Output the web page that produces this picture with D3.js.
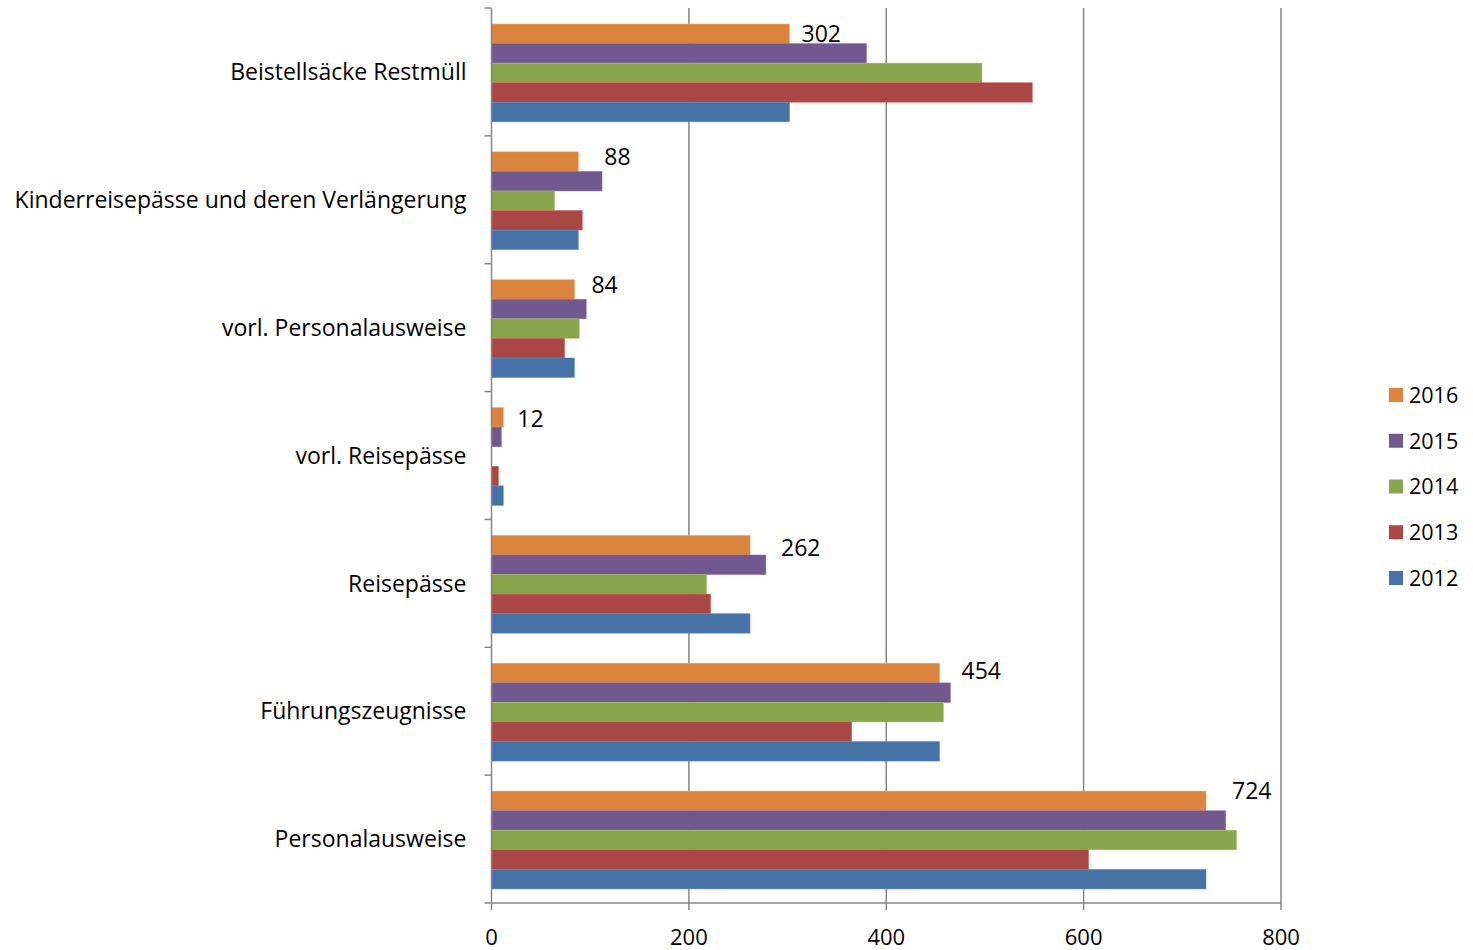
<!DOCTYPE html>
<html><head><meta charset="utf-8">
<script src="https://cdn.jsdelivr.net/npm/d3@7"></script>
<style>body{margin:0;background:#fff}svg{display:block}</style>
</head><body>
<script>
const categories = ["Beistellsäcke Restmüll","Kinderreisepässe und deren Verlängerung","vorl. Personalausweise","vorl. Reisepässe","Reisepässe","Führungszeugnisse","Personalausweise"];
const series = ["2016","2015","2014","2013","2012"];
const v2016 = [302, 88, 84, 12, 262, 454, 724];
const v2015 = [380, 112, 96, 10, 278, 465, 744];
const v2014 = [497, 64, 89, 0, 218, 458, 755];
const v2013 = [548, 92, 74, 7, 222, 365, 605];
const v2012 = [302, 88, 84, 12, 262, 454, 724];
const xTicks = [0, 200, 400, 600, 800];
const colors = ["#DB843D","#71588F","#89A54E","#AA4643","#4572A7"];
const values = [v2016, v2015, v2014, v2013, v2012];
// manual nudges of the data labels (layout, in px)
const labelNudgeX = [12, 26, 17, 14, 31, 22, 26];
const labelNudgeY = [0, -5, -4.5, 1, 3, -2, -10.5];

const W = 1473, H = 950;
const svg = d3.select("body").append("svg").attr("width", W).attr("height", H);
const font = "'Open Sans', sans-serif";

const x = d3.scaleLinear().domain([0, 800]).range([491.5, 1281]);
const y = d3.scaleBand().domain(categories).range([8, 903]);
const yi = d3.scaleBand().domain(series).range([y.bandwidth()*0.125, y.bandwidth()*0.89]);

// gridlines
svg.append("g").selectAll("line").data(xTicks.slice(1)).join("line")
  .attr("x1", d => x(d)).attr("x2", d => x(d))
  .attr("y1", 8).attr("y2", 903)
  .attr("stroke", "#868686").attr("stroke-width", 1.5);

// bars
const groups = svg.append("g").selectAll("g").data(categories).join("g")
  .attr("transform", c => `translate(0,${y(c)})`);
groups.each(function(c, ci) {
  const g = d3.select(this);
  series.forEach((s, si) => {
    const v = values[si][ci];
    if (v > 0) {
      g.append("rect")
        .attr("x", x(0)).attr("y", yi(s))
        .attr("width", x(v) - x(0)).attr("height", yi.bandwidth())
        .attr("fill", colors[si])
        .attr("stroke", d3.color(colors[si]).brighter(0.6)).attr("stroke-opacity", 0.6).attr("stroke-width", 0.8);
    }
  });
  // data label for 2016
  g.append("text")
    .attr("x", x(v2016[ci]) + labelNudgeX[ci])
    .attr("y", yi("2016") + yi.bandwidth()/2 + labelNudgeY[ci])
    .attr("dy", "0.36em")
    .attr("font-family", font).attr("font-size", 23).attr("fill", "#000")
    .text(v2016[ci]);
});

// y axis
const yAxis = svg.append("g");
yAxis.append("line").attr("x1", x(0)).attr("x2", x(0)).attr("y1", 8).attr("y2", 903)
  .attr("stroke", "#868686").attr("stroke-width", 1.5);
const bounds = categories.map(c => y(c)).concat([y.range()[1]]);
yAxis.selectAll("line.tk").data(bounds).join("line").attr("class","tk")
  .attr("x1", x(0) - 7).attr("x2", x(0)).attr("y1", d => d).attr("y2", d => d)
  .attr("stroke", "#868686").attr("stroke-width", 1.5);
yAxis.selectAll("text").data(categories).join("text")
  .attr("x", x(0) - 25).attr("y", c => y(c) + y.bandwidth()/2)
  .attr("dy", "0.36em").attr("text-anchor", "end")
  .attr("font-family", font).attr("font-size", 23).attr("fill", "#000")
  .text(c => c);

// x axis
const xAxis = svg.append("g");
xAxis.append("line").attr("x1", x(0)).attr("x2", x(800)).attr("y1", 903).attr("y2", 903)
  .attr("stroke", "#868686").attr("stroke-width", 1.5);
xAxis.selectAll("line.tk").data(xTicks).join("line").attr("class","tk")
  .attr("x1", d => x(d)).attr("x2", d => x(d)).attr("y1", 903).attr("y2", 910)
  .attr("stroke", "#868686").attr("stroke-width", 1.5);
xAxis.selectAll("text").data(xTicks).join("text")
  .attr("x", d => x(d)).attr("y", 937).attr("dy", "0.36em").attr("text-anchor", "middle")
  .attr("font-family", font).attr("font-size", 22).attr("fill", "#000")
  .text(d => d);

// legend
const leg = svg.append("g").selectAll("g").data(series).join("g")
  .attr("transform", (s, i) => `translate(1389,${395 + i*45.75})`);
leg.append("rect").attr("x", 0).attr("y", -7).attr("width", 14).attr("height", 14)
  .attr("fill", (s, i) => colors[i]);
leg.append("text").attr("x", 20).attr("y", 0).attr("dy", "0.36em")
  .attr("font-family", font).attr("font-size", 21.5).attr("fill", "#000")
  .text(s => s);
</script>
</body></html>
